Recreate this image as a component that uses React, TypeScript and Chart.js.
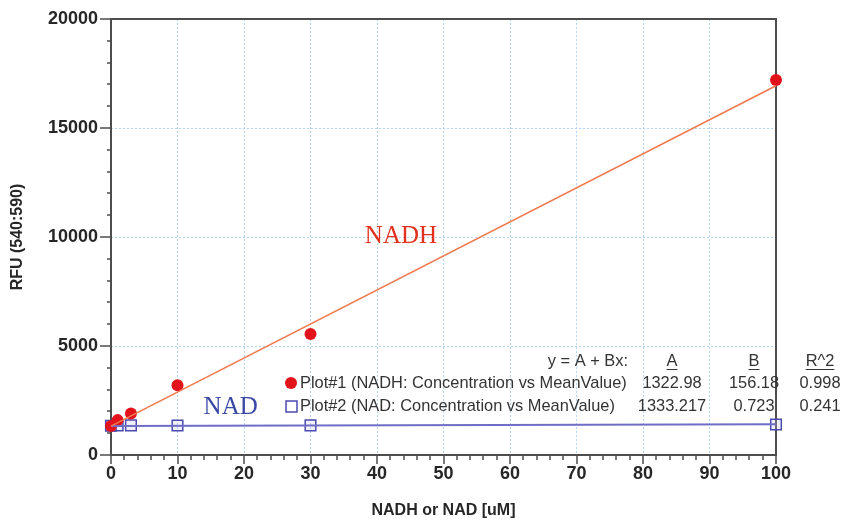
import React, { useEffect, useRef } from 'react';
import { Chart, registerables } from 'chart.js';

Chart.register(...registerables);

// ---- data ----
const nadhConc = [0, 1, 3, 10, 30, 100];
const nadhRFU = [1330, 1600, 1900, 3200, 5550, 17200];
const nadConc = [0, 1, 3, 10, 30, 100];
const nadRFU = [1340, 1350, 1360, 1350, 1360, 1400];

// fit parameters (y = A + Bx) as shown in the chart table
const fitA = [1322.98, 1333.217];
const fitB = [156.18, 0.723];
const fitALabels = ['1322.98', '1333.217'];
const fitBLabels = ['156.18', '0.723'];
const fitR2Labels = ['0.998', '0.241'];
const plotLabels = [
  'Plot#1 (NADH: Concentration vs MeanValue)',
  'Plot#2 (NAD: Concentration vs MeanValue)',
];
const fitRange = [0, 100];

const xMin = 0, xMax = 100, xStep = 10, xMinor = 2;
const yMin = 0, yMax = 20000, yStep = 5000, yMinor = 1000;

const SANS = "'Liberation Sans', Arial, sans-serif";
const SERIF = "'Liberation Serif', 'Times New Roman', serif";

const RED = '#e3131b';
const ORANGE = '#f07a4e';
const BLUE = '#4a4aae';
const BLUE_LINE = '#6e6ec6';
const AXIS = '#4d4d4d';
const GRID = '#b2d6f4';

const framePlugin = {
  id: 'frame',
  beforeDatasetsDraw(chart: any) {
    const { ctx, chartArea: a, scales } = chart;
    const x = scales.x, y = scales.y;
    ctx.save();
    ctx.strokeStyle = AXIS;
    ctx.lineWidth = 1.5;
    ctx.beginPath();
    for (let v = yMin; v <= yMax; v += yMinor) {
      const py = Math.round(y.getPixelForValue(v));
      const len = v % yStep === 0 ? 11 : 4;
      ctx.moveTo(a.left - len, py);
      ctx.lineTo(a.left, py);
    }
    for (let v = xMin; v <= xMax; v += xMinor) {
      const px = Math.round(x.getPixelForValue(v));
      const len = v % xStep === 0 ? 9 : 5;
      ctx.moveTo(px, a.bottom);
      ctx.lineTo(px, a.bottom + len);
    }
    ctx.stroke();
    ctx.lineWidth = 2;
    ctx.strokeRect(Math.round(a.left), Math.round(a.top), Math.round(a.right - a.left), Math.round(a.bottom - a.top));
    ctx.restore();
  },
};

const textPlugin = {
  id: 'texts',
  afterDraw(chart: any) {
    const { ctx, scales } = chart;
    const x = scales.x, y = scales.y;
    ctx.save();
    // curve labels
    ctx.textAlign = 'center';
    ctx.textBaseline = 'middle';
    ctx.font = `25px ${SERIF}`;
    ctx.fillStyle = '#e2321e';
    ctx.fillText('NADH', x.getPixelForValue(43.6), y.getPixelForValue(10000) - 1);
    ctx.fillStyle = '#3c4aa6';
    ctx.fillText('NAD', x.getPixelForValue(18), y.getPixelForValue(2200));

    // fit table
    ctx.font = `16.4px ${SANS}`;
    ctx.fillStyle = '#333';
    ctx.textBaseline = 'middle';
    const hy = 361, r1 = 383, r2 = 406;
    ctx.textAlign = 'right';
    ctx.fillText('y = A + Bx:', 628, hy);
    ctx.textAlign = 'center';
    const cols = [672, 754, 820];
    const heads = ['A', 'B', 'R^2'];
    heads.forEach((h, i) => {
      ctx.fillText(h, cols[i], hy);
      const w = ctx.measureText(h).width;
      ctx.fillRect(cols[i] - w / 2, hy + 8, w, 1);
    });
    const rows = [r1, r2];
    rows.forEach((ry, i) => {
      ctx.textAlign = 'left';
      ctx.fillText(plotLabels[i], 300, ry);
      ctx.textAlign = 'center';
      ctx.fillText(fitALabels[i], cols[0], ry);
      ctx.fillText(fitBLabels[i], cols[1], ry);
      ctx.fillText(fitR2Labels[i], cols[2], ry);
    });
    // markers
    ctx.fillStyle = RED;
    ctx.beginPath();
    ctx.arc(291, r1, 6, 0, Math.PI * 2);
    ctx.fill();
    ctx.strokeStyle = BLUE;
    ctx.lineWidth = 1.5;
    ctx.strokeRect(286, r2 - 5, 11, 11);
    ctx.restore();
  },
};

export default function App() {
  const ref = useRef<HTMLCanvasElement>(null);
  useEffect(() => {
    document.body.style.margin = '0';
    const canvas = ref.current;
    if (!canvas) return;
    const nadhPts = nadhConc.map((c, i) => ({ x: c, y: nadhRFU[i] }));
    const nadPts = nadConc.map((c, i) => ({ x: c, y: nadRFU[i] }));
    const fitLine = (k: number) => fitRange.map((c) => ({ x: c, y: fitA[k] + fitB[k] * c }));
    const gridColor = (ctx: any) => {
      const v = ctx.tick ? ctx.tick.value : 0;
      const s = ctx.scale;
      return v === s.min || v === s.max ? 'rgba(0,0,0,0)' : GRID;
    };
    const chart = new Chart(canvas, {
      type: 'scatter',
      data: {
        datasets: [
          {
            type: 'line',
            label: 'NADH fit',
            data: fitLine(0),
            borderColor: ORANGE,
            borderWidth: 1.6,
            pointRadius: 0,
            fill: false,
            clip: false,
          } as any,
          {
            type: 'line',
            label: 'NAD fit',
            data: fitLine(1),
            borderColor: BLUE_LINE,
            borderWidth: 2,
            pointRadius: 0,
            fill: false,
            clip: false,
          } as any,
          {
            label: 'NADH',
            data: nadhPts,
            pointStyle: 'circle',
            pointRadius: 6,
            backgroundColor: RED,
            borderColor: RED,
            borderWidth: 0,
            clip: false,
          } as any,
          {
            label: 'NAD',
            data: nadPts,
            pointStyle: 'rect',
            pointRadius: 7.5,
            backgroundColor: 'rgba(200,200,240,0.25)',
            borderColor: BLUE,
            borderWidth: 1.5,
            clip: false,
          } as any,
        ],
      },
      options: {
        responsive: false,
        animation: false,
        layout: { padding: { top: 19, right: 65, left: 0, bottom: 0 } },
        plugins: {
          legend: { display: false },
          tooltip: { enabled: false },
        },
        scales: {
          x: {
            type: 'linear',
            min: xMin,
            max: xMax,
            afterFit: (s: any) => { s.height = 65; s.paddingLeft = 0; s.paddingRight = 0; },
            ticks: {
              stepSize: xStep,
              color: '#262626',
              font: { family: SANS, size: 18, weight: 'bold' },
              padding: 8,
              maxRotation: 0,
              callback: (v: any) => String(v),
            },
            grid: {
              color: gridColor,
              lineWidth: 1,
              drawTicks: false,
            },
            border: { display: false, dash: [2, 2] },
            title: {
              display: true,
              text: 'NADH or NAD [uM]',
              color: '#262626',
              font: { family: SANS, size: 16, weight: 'bold' },
              padding: { top: 0, bottom: 0 },
            },
          },
          y: {
            type: 'linear',
            min: yMin,
            max: yMax,
            afterFit: (s: any) => { s.width = 111; s.paddingTop = 0; s.paddingBottom = 0; },
            ticks: {
              stepSize: yStep,
              color: '#262626',
              font: { family: SANS, size: 18, weight: 'bold' },
              padding: 13,
              callback: (v: any) => String(v),
            },
            grid: {
              color: gridColor,
              lineWidth: 1,
              drawTicks: false,
            },
            border: { display: false, dash: [2, 2] },
            title: {
              display: true,
              text: 'RFU (540:590)',
              color: '#262626',
              font: { family: SANS, size: 16, weight: 'bold' },
              padding: { top: 8, bottom: 0 },
            },
          },
        },
      },
      plugins: [framePlugin, textPlugin],
    } as any);
    return () => chart.destroy();
  }, []);
  return (
    <div style={{ position: 'absolute', left: 0, top: 0, width: 841, height: 520, background: '#fff' }}>
      <canvas ref={ref} width={841} height={520} />
    </div>
  );
}
